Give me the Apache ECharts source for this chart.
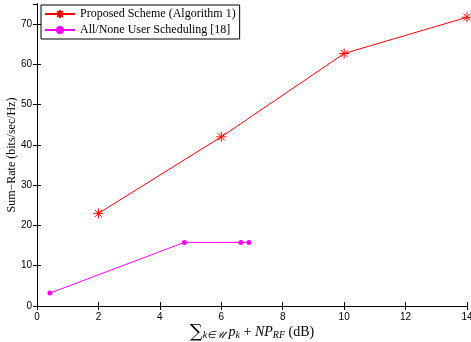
<!DOCTYPE html>
<html><head><meta charset="utf-8">
<script src="https://cdn.jsdelivr.net/npm/echarts@6/dist/echarts.min.js"></script>
<style>html,body{margin:0;padding:0;background:#fff}#c{width:471px;height:342px}</style>
</head><body><div id="c"></div>
<script>
const proposedX = [2, 6, 10, 14];
const proposedY = [23, 42, 62.7, 71.7];
const allNoneX = [0.42, 4.8, 6.64, 6.9];
const allNoneY = [3.2, 15.8, 15.8, 15.8];
const seriesNames = ['Proposed Scheme (Algorithm 1)', 'All/None User Scheduling [18]'];
const yName = 'Sum\u2212Rate (bits/sec/Hz)';

const star = 'path://M0,-5L0,5M-5,0L5,0M-3.6,-3.6L3.6,3.6M-3.6,3.6L3.6,-3.6';
const chart = echarts.init(document.getElementById('c'), null, {renderer: 'canvas'});
const tickLbl = {color: '#000', fontFamily: 'Liberation Sans, Arial, sans-serif', fontSize: 10};
const axLine = {lineStyle: {color: '#000', width: 1}};
chart.setOption({
  animation: false,
  backgroundColor: '#fff',
  grid: {left: 37, right: 4, top: 4, bottom: 36, show: false, containLabel: false, outerBoundsMode: 'none'},
  legend: {
    left: 41, top: 5, orient: 'vertical', itemGap: 4, padding: [3, 4, 3, 3],
    backgroundColor: '#fff', borderColor: '#000', borderWidth: 1,
    itemWidth: 30, itemHeight: 10,
    textStyle: {fontFamily: 'Liberation Serif, Times New Roman, serif', fontSize: 12, color: '#000'},
    data: seriesNames
  },
  xAxis: [{
    type: 'value', min: 0, max: 14, interval: 2,
    axisLine: axLine, axisTick: {inside: true, length: 4, lineStyle: {color: '#000'}},
    splitLine: {show: false}, axisLabel: Object.assign({margin: 6}, tickLbl),
    name: '{s|\u2211}{sub|k\u2208\ud835\udcb0} {i|p}{sub|k} + {i|NP}{sub2|RF} (dB)',
    nameLocation: 'middle', nameGap: 17, nameMoveOverlap: false,
    nameTextStyle: {
      fontFamily: 'Liberation Serif, serif', fontSize: 14, color: '#000',
      rich: {
        s: {fontSize: 18, fontFamily: 'DejaVu Serif, serif', color: '#000'},
        sub: {fontSize: 10, fontStyle: 'italic', fontFamily: 'Liberation Serif, serif', color: '#000', padding: [7, 0, 0, 0]},
        sub2: {fontSize: 10, fontStyle: 'italic', fontFamily: 'Liberation Serif, serif', color: '#000', padding: [6, 0, 0, 0]},
        i: {fontSize: 14, fontStyle: 'italic', fontFamily: 'Liberation Serif, serif', color: '#000'}
      }
    }
  }, {
    type: 'value', min: 0, max: 14, interval: 2, position: 'top',
    axisLine: axLine, axisTick: {inside: true, length: 4, lineStyle: {color: '#000'}},
    axisLabel: {show: false}, splitLine: {show: false}
  }],
  yAxis: [{
    type: 'value', min: 0, max: 75, interval: 10,
    axisLine: axLine, axisTick: {inside: true, length: 4, lineStyle: {color: '#000'}},
    splitLine: {show: false}, axisLabel: Object.assign({margin: 5, showMaxLabel: false}, tickLbl),
    name: yName, nameLocation: 'middle', nameGap: 19, nameMoveOverlap: false,
    nameTextStyle: {fontFamily: 'Liberation Serif, serif', fontSize: 12, color: '#000'}
  }, {
    type: 'value', min: 0, max: 75, interval: 10, position: 'right',
    axisLine: axLine, axisTick: {inside: true, length: 4, lineStyle: {color: '#000'}},
    axisLabel: {show: false}, splitLine: {show: false}
  }],
  series: [{
    name: seriesNames[0], type: 'line',
    data: proposedX.map((x, i) => [x, proposedY[i]]),
    symbol: star, symbolSize: 10,
    lineStyle: {color: '#ff0000', width: 1},
    itemStyle: {color: '#ff0000', borderColor: '#ff0000', borderWidth: 1}
  }, {
    name: seriesNames[1], type: 'line',
    data: allNoneX.map((x, i) => [x, allNoneY[i]]),
    symbol: 'circle', symbolSize: 5, showSymbol: true,
    lineStyle: {color: '#ff00ff', width: 1},
    itemStyle: {color: '#ff00ff', borderWidth: 0}
  }]
});
</script></body></html>
